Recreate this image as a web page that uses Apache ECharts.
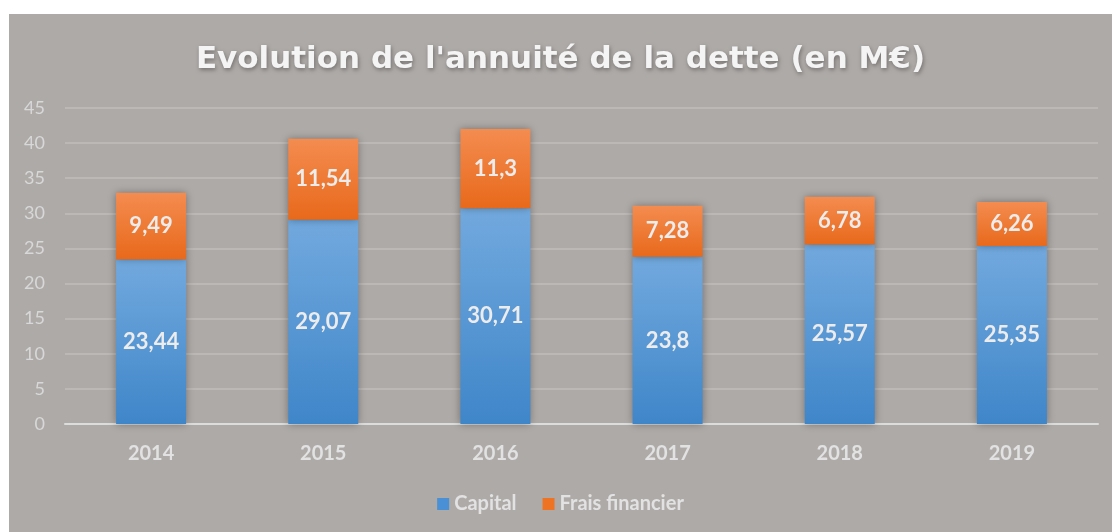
<!DOCTYPE html>
<html>
<head>
<meta charset="utf-8">
<script src="https://cdn.jsdelivr.net/npm/echarts@6/dist/echarts.min.js"></script>
<style>
  html, body { margin: 0; padding: 0; background: #ffffff; }
  #chart { position: absolute; left: 9px; top: 14px; width: 1103px; height: 518px; }
</style>
</head>
<body>
<div id="chart"></div>
<script>
const years = ['2014', '2015', '2016', '2017', '2018', '2019']
const capital = [23.44, 29.07, 30.71, 23.8, 25.57, 25.35]
const frais = [9.49, 11.54, 11.3, 7.28, 6.78, 6.26]

const chart = echarts.init(document.getElementById('chart'))
const font = 'Lato, "Open Sans", sans-serif'
const frFmt = p => String(p.value).replace('.', ',')

function grad(top, bottom) {
  return new echarts.graphic.LinearGradient(0, 0, 0, 1, [
    { offset: 0, color: top },
    { offset: 1, color: bottom }
  ])
}

chart.setOption({
  backgroundColor: '#aeaaa8',
  title: {
    text: "Evolution de l'annuité de la dette (en M€)",
    left: 'center',
    top: 25,
    textStyle: {
      fontFamily: '"DejaVu Sans", sans-serif', fontSize: 31, fontWeight: 'bold', color: '#f4f4f4',
      textShadowColor: 'rgba(0,0,0,0.35)', textShadowBlur: 4, textShadowOffsetX: 1, textShadowOffsetY: 2
    }
  },
  grid: { left: 56, right: 14, top: 94, bottom: 108 },
  legend: {
    bottom: 13,
    left: 'center',
    itemWidth: 12, itemHeight: 12, itemGap: 26,
    icon: 'rect',
    textStyle: { fontFamily: font, fontSize: 20, fontWeight: 'bold', color: '#e2e2e2' },
    data: [
      { name: 'Capital', itemStyle: { color: '#4a90d6' } },
      { name: 'Frais financier', itemStyle: { color: '#ee7424' } }
    ]
  },
  xAxis: {
    type: 'category',
    data: years,
    axisLine: { lineStyle: { color: '#dcdcdc', width: 2 } },
    axisTick: { show: false },
    axisLabel: { fontFamily: font, fontSize: 20, fontWeight: 'bold', color: '#e2e2e2', margin: 20 }
  },
  yAxis: {
    type: 'value',
    min: 0, max: 45, interval: 5,
    axisLine: { show: false },
    axisTick: { show: false },
    axisLabel: { fontFamily: font, fontSize: 18, color: '#d8d8d8', margin: 20 },
    splitLine: { lineStyle: { color: '#bcb8b6', width: 2 } }
  },
  series: [
    {
      name: 'Capital', type: 'bar', stack: 'a', data: capital, barWidth: 70,
      itemStyle: {
        color: grad('#72a9de', '#3f86c9'),
        shadowColor: 'rgba(0,0,0,0.35)', shadowBlur: 8, shadowOffsetX: 0
      },
      label: {
        show: true, position: 'inside', formatter: frFmt,
        fontFamily: font, fontSize: 22, fontWeight: 'bold', color: '#ececec'
      }
    },
    {
      name: 'Frais financier', type: 'bar', stack: 'a', data: frais, barWidth: 70,
      itemStyle: {
        color: grad('#f48c50', '#e8691b'),
        shadowColor: 'rgba(0,0,0,0.35)', shadowBlur: 8, shadowOffsetX: 0
      },
      label: {
        show: true, position: 'inside', formatter: frFmt,
        fontFamily: font, fontSize: 22, fontWeight: 'bold', color: '#ececec'
      }
    }
  ]
})
</script>
</body>
</html>
